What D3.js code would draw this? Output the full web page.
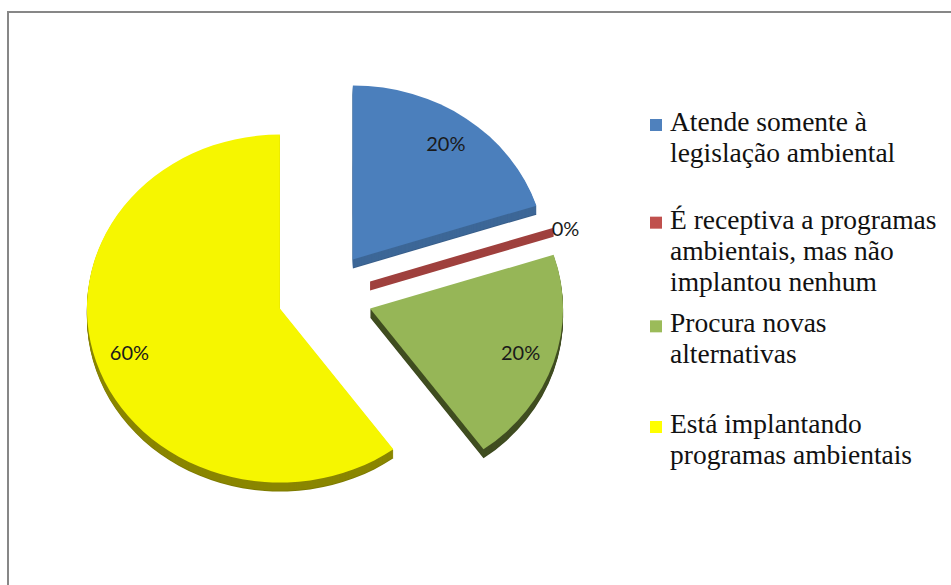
<!DOCTYPE html>
<html>
<head>
<meta charset="utf-8">
<script src="https://cdn.jsdelivr.net/npm/d3@7"></script>
<style>
  html, body { margin: 0; padding: 0; background: #ffffff; }
  svg { display: block; }
</style>
</head>
<body>
<svg id="chart" width="951" height="585"></svg>
<script>
// Answers to the survey question, one slice per category
const categories = [
  "Atende somente à legislação ambiental",
  "É receptiva a programas ambientais, mas não implantou nenhum",
  "Procura novas alternativas",
  "Está implantando programas ambientais"
];
const legendLines = [
  ["Atende somente à", "legislação ambiental"],
  ["É receptiva a programas", "ambientais, mas não", "implantou nenhum"],
  ["Procura novas", "alternativas"],
  ["Está implantando", "programas ambientais"]
];
const values = [20, 0, 20, 60];
const percentLabels = ["20%", "0%", "20%", "60%"];

const topColors  = ["#4b7fbc", "#b4504c", "#96b657", "#f6f600"];
const sideColors = ["#3d6797", "#9f403d", "#404e21", "#8a8600"];
const legendColors = ["#4f81bd", "#c0504d", "#9bbb59", "#ffff00"];

const svg = d3.select("#chart");

// outer frame
svg.append("rect")
  .attr("x", 8).attr("y", 12)
  .attr("width", 1000).attr("height", 700)
  .attr("fill", "none")
  .attr("stroke", "#878787")
  .attr("stroke-width", 2);

// pie geometry (tilted, exploded, extruded)
const cx = 325, cy = 295;
const rx = 193, ry = 174;
const tilt = ry / rx;
const explodeX = 47.4, explodeY = 44;
const depth = 9;

const pie = d3.pie().sort(null).value(d => d);
const arcs = pie(values);
const arcGen = d3.arc().innerRadius(0).outerRadius(rx);

function offsetOf(a) {
  const mid = (a.startAngle + a.endAngle) / 2;
  return [cx + explodeX * Math.sin(mid), cy - explodeY * Math.cos(mid)];
}

const pieG = svg.append("g");

arcs.forEach((a, i) => {
  const [ox, oy] = offsetOf(a);
  const g = pieG.append("g");
  if (a.endAngle - a.startAngle > 1e-6) {
    // side walls: stacked copies shifted downward
    for (let k = depth; k >= 1; k--) {
      g.append("path")
        .attr("transform", `translate(${ox},${oy + k}) scale(1,${tilt})`)
        .attr("d", arcGen(a))
        .attr("fill", d3.color(sideColors[i]).darker(k === depth ? 0.25 : 0));
    }
    g.append("path")
      .attr("transform", `translate(${ox},${oy}) scale(1,${tilt})`)
      .attr("d", arcGen(a))
      .attr("fill", topColors[i]);
  } else {
    // a zero-width slice shows only its radial wall
    const ang = a.startAngle;
    const px = rx * Math.sin(ang), py = -ry * Math.cos(ang);
    const pts = [[ox, oy], [ox + px, oy + py], [ox + px, oy + py + depth], [ox, oy + depth]];
    g.append("path")
      .attr("d", d3.line()(pts) + "Z")
      .attr("fill", sideColors[i]);
  }
});

// percentage labels
const labelR = 0.82;
arcs.forEach((a, i) => {
  const [ox, oy] = offsetOf(a);
  const mid = (a.startAngle + a.endAngle) / 2;
  const zero = a.endAngle - a.startAngle < 1e-6;
  const r = zero ? 1.0 : labelR;
  const x = ox + rx * r * Math.sin(mid) + (zero ? -2 : 0);
  const y = oy - ry * r * Math.cos(mid) + (zero ? 1 : 0);
  svg.append("text")
    .attr("x", x).attr("y", y)
    .attr("dy", "0.35em")
    .attr("text-anchor", zero ? "start" : "middle")
    .attr("font-family", "Lato, 'Open Sans', sans-serif")
    .attr("font-size", 20)
    .attr("fill", "#1a1a1a")
    .text(percentLabels[i]);
});

// legend
const legendY = d3.scalePoint().domain(categories).range([131, 433]);
const lineH = 31;
const legend = svg.append("g");
categories.forEach((c, i) => {
  const lines = legendLines[i];
  const base = legendY(c) - (lines.length > 2 ? 3 : 0);
  legend.append("rect")
    .attr("x", 650).attr("y", base - 12)
    .attr("width", 12).attr("height", 12)
    .attr("fill", legendColors[i]);
  const t = legend.append("text")
    .attr("x", 670).attr("y", base)
    .attr("font-family", "'Liberation Serif', 'Times New Roman', serif")
    .attr("font-size", 27.5)
    .attr("fill", "#111");
  lines.forEach((ln, j) => {
    t.append("tspan").attr("x", 670).attr("y", base + j * lineH).text(ln);
  });
});
</script>
</body>
</html>
